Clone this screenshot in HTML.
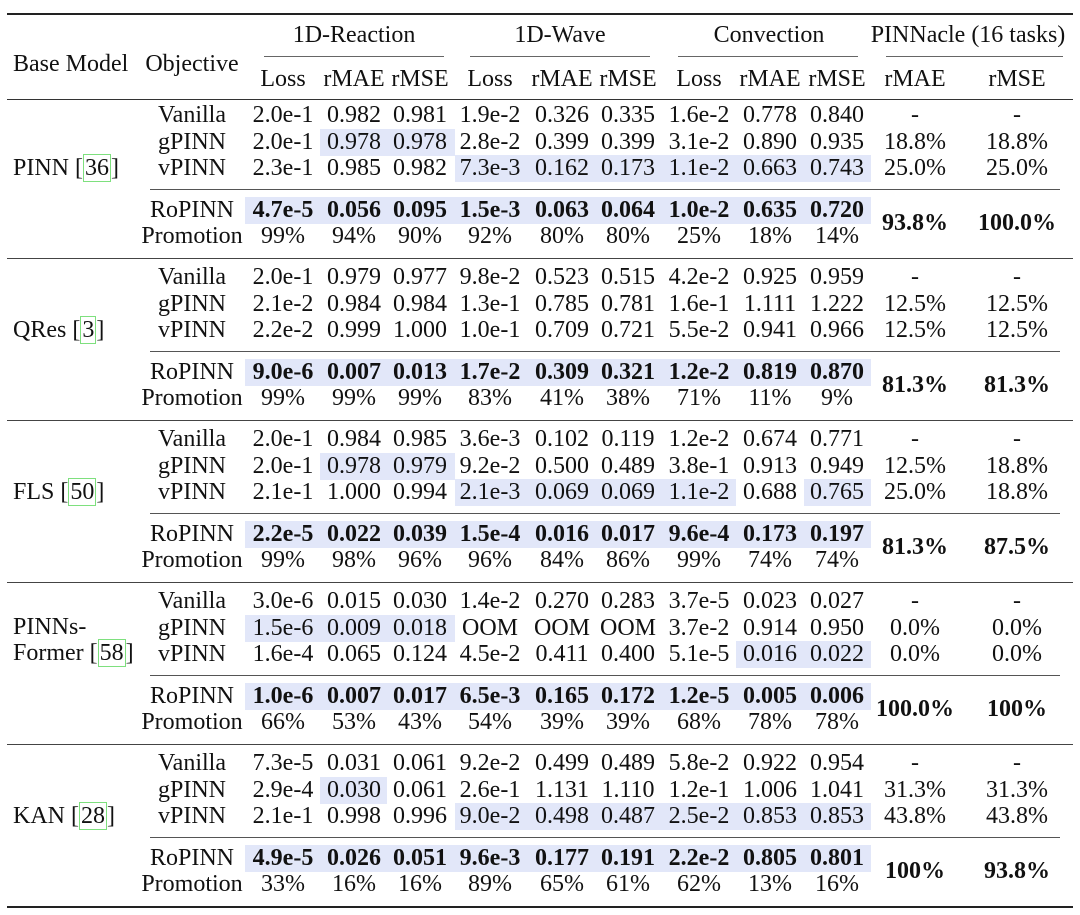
<!DOCTYPE html>
<html><head><meta charset="utf-8">
<style>
html,body{margin:0;padding:0;background:#fff;}
#tbl{position:relative;width:1080px;height:915px;overflow:hidden;font-family:"Liberation Serif",serif;font-size:24px;color:#111;}
.t{position:absolute;height:28px;line-height:28px;white-space:nowrap;}
.c{transform:translateX(-50%);}
.b{font-weight:bold;}
.rule{position:absolute;background:#222;}
.hl{position:absolute;background:#e2e7f9;}
.cite{border:1px solid #7ee07e;padding:0 1px;}
</style></head>
<body>
<div id="tbl"></div>
<script>
const colX=[283,354,420,490,562,628,699,770,837];
const pX=[915,1017];
const sectionY=[115,277,439,601,763];
const models=[["PINN [","36","]"],["QRes [","3","]"],["FLS [","50","]"],["PINNs-","Former [","58","]"],["KAN [","28","]"]];
const objectives=["Vanilla","gPINN","vPINN","RoPINN","Promotion"];
const values=[
[["2.0e-1","0.982","0.981","1.9e-2","0.326","0.335","1.6e-2","0.778","0.840"],
 ["2.0e-1","0.978","0.978","2.8e-2","0.399","0.399","3.1e-2","0.890","0.935"],
 ["2.3e-1","0.985","0.982","7.3e-3","0.162","0.173","1.1e-2","0.663","0.743"],
 ["4.7e-5","0.056","0.095","1.5e-3","0.063","0.064","1.0e-2","0.635","0.720"],
 ["99%","94%","90%","92%","80%","80%","25%","18%","14%"]],
[["2.0e-1","0.979","0.977","9.8e-2","0.523","0.515","4.2e-2","0.925","0.959"],
 ["2.1e-2","0.984","0.984","1.3e-1","0.785","0.781","1.6e-1","1.111","1.222"],
 ["2.2e-2","0.999","1.000","1.0e-1","0.709","0.721","5.5e-2","0.941","0.966"],
 ["9.0e-6","0.007","0.013","1.7e-2","0.309","0.321","1.2e-2","0.819","0.870"],
 ["99%","99%","99%","83%","41%","38%","71%","11%","9%"]],
[["2.0e-1","0.984","0.985","3.6e-3","0.102","0.119","1.2e-2","0.674","0.771"],
 ["2.0e-1","0.978","0.979","9.2e-2","0.500","0.489","3.8e-1","0.913","0.949"],
 ["2.1e-1","1.000","0.994","2.1e-3","0.069","0.069","1.1e-2","0.688","0.765"],
 ["2.2e-5","0.022","0.039","1.5e-4","0.016","0.017","9.6e-4","0.173","0.197"],
 ["99%","98%","96%","96%","84%","86%","99%","74%","74%"]],
[["3.0e-6","0.015","0.030","1.4e-2","0.270","0.283","3.7e-5","0.023","0.027"],
 ["1.5e-6","0.009","0.018","OOM","OOM","OOM","3.7e-2","0.914","0.950"],
 ["1.6e-4","0.065","0.124","4.5e-2","0.411","0.400","5.1e-5","0.016","0.022"],
 ["1.0e-6","0.007","0.017","6.5e-3","0.165","0.172","1.2e-5","0.005","0.006"],
 ["66%","53%","43%","54%","39%","39%","68%","78%","78%"]],
[["7.3e-5","0.031","0.061","9.2e-2","0.499","0.489","5.8e-2","0.922","0.954"],
 ["2.9e-4","0.030","0.061","2.6e-1","1.131","1.110","1.2e-1","1.006","1.041"],
 ["2.1e-1","0.998","0.996","9.0e-2","0.498","0.487","2.5e-2","0.853","0.853"],
 ["4.9e-5","0.026","0.051","9.6e-3","0.177","0.191","2.2e-2","0.805","0.801"],
 ["33%","16%","16%","89%","65%","61%","62%","13%","16%"]]];
const pinnacle=[
[["-","-"],["18.8%","18.8%"],["25.0%","25.0%"],["93.8%","100.0%"]],
[["-","-"],["12.5%","12.5%"],["12.5%","12.5%"],["81.3%","81.3%"]],
[["-","-"],["12.5%","18.8%"],["25.0%","18.8%"],["81.3%","87.5%"]],
[["-","-"],["0.0%","0.0%"],["0.0%","0.0%"],["100.0%","100%"]],
[["-","-"],["31.3%","31.3%"],["43.8%","43.8%"],["100%","93.8%"]]];
// highlights: [section,row,firstCol,lastCol]
const highlights=[[0,1,1,2],[0,2,3,8],[0,3,0,8],[1,3,0,8],[2,1,1,2],[2,2,3,6],[2,2,8,8],[2,3,0,8],[3,1,0,2],[3,2,7,8],[3,3,0,8],[4,1,1,1],[4,2,3,8],[4,3,0,8]];
const colEdges=[245,320,387,455,525,595,664,736,804,871];
const rowOff=[0,27,53,95,121];

const T=document.getElementById('tbl');
function txt(s,x,y,cls){
  const d=document.createElement('div');
  d.className='t '+(cls||'');
  d.style.left=x+'px';d.style.top=(y-14)+'px';
  d.textContent=s;T.appendChild(d);return d;
}
function rule(x1,x2,y,h,col){
  const r=document.createElement('div');r.className='rule';
  r.style.left=x1+'px';r.style.width=(x2-x1)+'px';r.style.top=y+'px';r.style.height=h+'px';
  if(col)r.style.background=col;
  
  
  T.appendChild(r);
}
// highlights first
highlights.forEach(h=>{
  const d=document.createElement('div');d.className='hl';
  const y=sectionY[h[0]]+rowOff[h[1]];
  d.style.left=colEdges[h[2]]+'px';d.style.width=(colEdges[h[3]+1]-colEdges[h[2]])+'px';
  d.style.top=(y-13)+'px';d.style.height='27px';
  
  
  T.appendChild(d);
});
// rules
rule(7,1073,13,2);
rule(264,444,56,1,'#666');rule(470,650,56,1,'#666');rule(678,858,56,1,'#666');rule(886,1063,56,1,'#666');
rule(7,1073,99,1,'#333');
sectionY.forEach((s,i)=>{
  rule(150,1060,s+74,1,'#555');
  if(i<4) rule(7,1073,s+143,1,'#444');
});
rule(7,1073,906,2);
// headers
let h;
h=txt('Base Model',13,64);


h=txt('Objective',192,64,'c');


const groups=[['1D-Reaction',354],['1D-Wave',560],['Convection',769],['PINNacle (16 tasks)',968]];
groups.forEach(g=>{
  const e=txt(g[0],g[1],35,'c');
  
  
});
const subs=['Loss','rMAE','rMSE','Loss','rMAE','rMSE','Loss','rMAE','rMSE'];
subs.forEach((s,i)=>{
  const e=txt(s,colX[i],79,'c');
  
  
});
['rMAE','rMSE'].forEach((s,i)=>{
  const e=txt(s,pX[i],79,'c');
  
  
});
// body
sectionY.forEach((s,si)=>{
  const m=models[si];
  let lab=document.createElement('div');lab.className='t';lab.style.left='13px';
  if(m.length===3){
    lab.style.top=(s+53-14)+'px';
    lab.innerHTML=m[0]+'<span class="cite">'+m[1]+'</span>'+m[2];
  }else{
    lab.style.top=(s+27-14)+'px';lab.style.height='56px';lab.style.lineHeight='26px';
    lab.innerHTML=m[0]+'<br>'+m[1]+'<span class="cite">'+m[2]+'</span>'+m[3];
  }
  
  
  T.appendChild(lab);
  objectives.forEach((o,ri)=>{
    const y=s+rowOff[ri];
    const e=txt(o,192,y,'c');
    
    
    values[si][ri].forEach((v,ci)=>{
      const c=txt(v,colX[ci],y,'c'+(ri===3?' b':''));
      
      
    });
  });
  pinnacle[si].forEach((r,ri)=>{
    const y=ri===3?s+108:s+rowOff[ri];
    r.forEach((v,ci)=>{
      const c=txt(v,pX[ci],y,'c'+(ri===3?' b':''));
      
      
    });
  });
});
</script>
</body></html>
